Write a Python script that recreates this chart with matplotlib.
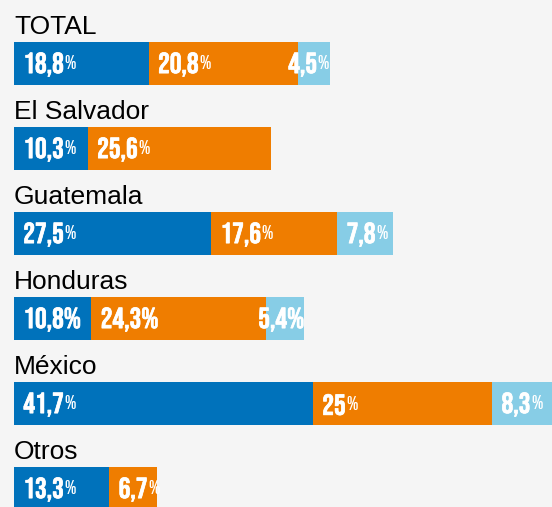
import matplotlib.pyplot as plt
import matplotlib.patheffects as pe

# Datos
paises = ["TOTAL", "El Salvador", "Guatemala", "Honduras", "México", "Otros"]
serie_a = [18.8, 10.3, 27.5, 10.8, 41.7, 13.3]
serie_b = [20.8, 25.6, 17.6, 24.3, 25.0, 6.7]
serie_c = [4.5, 0.0, 7.8, 5.4, 8.3, 0.0]
etiquetas_a = ["18,8", "10,3", "27,5", "10,8", "41,7", "13,3"]
etiquetas_b = ["20,8", "25,6", "17,6", "24,3", "25", "6,7"]
etiquetas_c = ["4,5", "", "7,8", "5,4", "8,3", ""]

colores = ["#0072bb", "#ef7d00", "#87cde6"]
fondo = "#f5f5f5"

fig = plt.figure(figsize=(5.52, 5.07), dpi=100, facecolor=fondo)
ax = fig.add_axes([14 / 552, 0, 1 - 14 / 552, 1])
ax.set_facecolor(fondo)
ax.set_xlim(0, 538 / 7.17)
ax.set_ylim((507 - 63.5) / 85, -63.5 / 85)
ax.axis("off")

alto = 43 / 85
ypos = list(range(len(paises)))
series = [serie_a, serie_b, serie_c]
etiquetas = [etiquetas_a, etiquetas_b, etiquetas_c]

# Bebas Neue con un trazo fino para que se vea un poco mas gruesa
trazo = [pe.withStroke(linewidth=0.5, foreground="white")]
fuente_num = dict(family=["Bebas Neue", "DejaVu Sans"], color="white")

izq = [0.0] * len(paises)
for s, (vals, labs, col) in enumerate(zip(series, etiquetas, colores)):
    ax.barh(ypos, vals, left=izq, height=alto, color=col, clip_on=False)
    for i, (v, lab) in enumerate(zip(vals, labs)):
        if v == 0:
            continue
        full = paises[i] == "Honduras"
        texto = lab + ("%" if full else "")
        if v < 6:
            # etiquetas de segmentos chicos: alineadas al final del segmento
            x, ha = izq[i] + v, "right"
            if not full:
                x -= 13 / 7.17
        else:
            x, ha = izq[i] + 1.3, "left"
        t = ax.text(x, ypos[i] + 0.01, texto, ha=ha, va="center", fontsize=21,
                    path_effects=trazo, **fuente_num)
        if not full:
            ax.annotate("%", xy=(1, 0.9), xycoords=t, xytext=(0.3, 0),
                        textcoords="offset points", ha="left", va="top",
                        fontsize=14, **fuente_num)
    izq = [a + b for a, b in zip(izq, vals)]

for i, p in enumerate(paises):
    ax.text(0, ypos[i] - alto / 2 - 8 / 85, p, ha="left", va="baseline",
            fontsize=19, family="Liberation Sans", color="black")

fig.savefig("out.png", dpi=100, facecolor=fondo)
